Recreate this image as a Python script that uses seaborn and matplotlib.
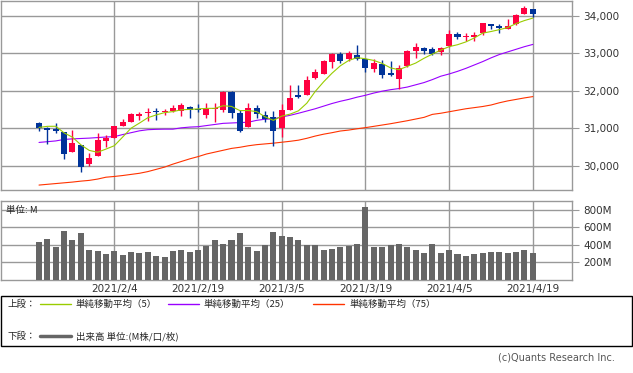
import numpy as np
import pandas as pd
import matplotlib
matplotlib.use("Agg")
import matplotlib.pyplot as plt
from matplotlib.lines import Line2D
from matplotlib.patches import Rectangle
import seaborn as sns

# ======================================================================
# DATA
# ======================================================================
tick_idx = [9, 19, 29, 39, 49, 59]
tick_labels = ['2021/2/4', '2021/2/19', '2021/3/5', '2021/3/19', '2021/4/5', '2021/4/19']

opens = [31150, 31000, 30980, 30900, 30370, 30555, 30045, 30260, 30670, 30740,
         31060, 31175, 31330, 31410, 31460, 31420, 31470, 31465, 31560, 31515,
         31360, 31505, 31490, 31965, 31415, 31040, 31530, 31355, 31290, 31015,
         31490, 31890, 31890, 32350, 32460, 32780, 32985, 32845, 32945, 32850,
         32585, 32705, 32480, 32310, 32670, 33075, 33135, 33115, 33045, 33205,
         33525, 33450, 33450, 33535, 33785, 33740, 33652, 33780, 34055, 34185]
highs = [31170, 31030, 31150, 30910, 30955, 30560, 30340, 30860, 30830, 31060,
         31240, 31395, 31440, 31530, 31530, 31520, 31620, 31665, 31590, 31650,
         31665, 31665, 32000, 32005, 31490, 31665, 31620, 31460, 31450, 31645,
         32155, 32150, 32395, 32575, 32835, 33000, 33040, 33070, 33225, 32870,
         32840, 32830, 32790, 32700, 33100, 33280, 33180, 33180, 33175, 33620,
         33560, 33540, 33570, 33810, 33790, 33790, 33920, 34060, 34275, 34200]
lows = [30920, 30590, 30880, 30170, 30360, 29840, 29995, 30250, 30510, 30730,
        31050, 31170, 31230, 31200, 31220, 31350, 31440, 31335, 31280, 31440,
        31285, 31160, 31420, 31280, 30900, 31030, 31265, 31175, 30530, 30755,
        31480, 31800, 31880, 32315, 32450, 32620, 32750, 32790, 32830, 32490,
        32495, 32350, 32400, 32050, 32640, 32890, 32990, 32950, 32950, 33180,
        33380, 33340, 33330, 33500, 33650, 33535, 33640, 33770, 34050, 33980]
closes = [30997, 30960, 30937, 30303, 30603, 29960, 30211, 30687, 30740, 31055,
          31170, 31385, 31390, 31437, 31430, 31458, 31545, 31613, 31493, 31494,
          31525, 31537, 31961, 31402, 30932, 31535, 31391, 31245, 30924, 31500,
          31802, 31832, 32297, 32500, 32790, 32975, 32800, 33000, 32862, 32620,
          32750, 32410, 32410, 32620, 33072, 33165, 33060, 32985, 33155, 33530,
          33430, 33465, 33505, 33800, 33745, 33677, 33740, 34035, 34220, 34060]

ma5 = [31021, 31050, 31052, 30875, 30760, 30557, 30407, 30357, 30442, 30532,
       30765, 31000, 31137, 31280, 31355, 31417, 31444, 31492, 31503, 31516,
       31529, 31532, 31601, 31583, 31471, 31473, 31444, 31306, 31210, 31323,
       31377, 31465, 31670, 31982, 32239, 32469, 32668, 32811, 32887, 32857,
       32812, 32732, 32613, 32564, 32653, 32741, 32870, 32982, 33089, 33180,
       33232, 33307, 33412, 33541, 33585, 33635, 33691, 33798, 33878, 33944]
ma25 = [30620, 30640, 30660, 30700, 30715, 30725, 30735, 30750, 30765, 30775,
        30830, 30880, 30930, 30960, 30970, 30975, 30975, 31010, 31030, 31040,
        31070, 31100, 31130, 31140, 31150, 31160, 31210, 31240, 31250, 31300,
        31345, 31400, 31460, 31520, 31590, 31660, 31720, 31770, 31830, 31880,
        31940, 31990, 32030, 32060, 32100, 32160, 32220, 32300, 32390, 32450,
        32520, 32600, 32690, 32780, 32880, 32970, 33040, 33110, 33180, 33240]
ma75 = [29480, 29500, 29520, 29540, 29560, 29585, 29605, 29640, 29690, 29710,
        29735, 29765, 29795, 29840, 29900, 29960, 30040, 30110, 30180, 30240,
        30310, 30360, 30410, 30460, 30490, 30530, 30560, 30580, 30600, 30625,
        30650, 30680, 30730, 30790, 30840, 30880, 30925, 30950, 30985, 31015,
        31050, 31085, 31120, 31160, 31200, 31245, 31290, 31370, 31400, 31440,
        31480, 31520, 31550, 31580, 31620, 31680, 31730, 31770, 31810, 31845]

volumes = [432, 469, 378, 560, 458, 534, 345, 330, 295, 330,
           284, 318, 307, 318, 273, 261, 330, 341, 318, 341,
           386, 458, 409, 458, 534, 378, 330, 398, 545, 500,
           489, 455, 398, 398, 341, 352, 378, 386, 409, 830,
           378, 378, 398, 409, 378, 341, 307, 409, 307, 341,
           295, 273, 295, 307, 318, 318, 307, 318, 341, 307]

# ======================================================================
# STYLE
# ======================================================================
RED = '#FF0040'
BLUE = '#003399'
C_MA5 = '#99CC00'
C_MA25 = '#9900FF'
C_MA75 = '#FF3300'
GRID = '#999999'
JP = ['Noto Sans CJK JP', 'DejaVu Sans']

sns.set_style("white")
plt.rcParams['font.family'] = ['DejaVu Sans', 'Noto Sans CJK JP']

W, H = 633, 373
fig = plt.figure(figsize=(W / 100, H / 100), dpi=100)


def px_axes(x0, y0, x1, y1):
    return fig.add_axes([x0 / W, 1 - y1 / H, (x1 - x0) / W, (y1 - y0) / H])


def fx(x):
    return x / W


def fy(y):
    return 1 - y / H


df = pd.DataFrame({'idx': np.arange(len(closes)), 'open': opens, 'high': highs,
                   'low': lows, 'close': closes, 'ma5': ma5, 'ma25': ma25,
                   'ma75': ma75, 'volume': volumes})

XLIM = (-4.54, 63.68)

# ---------------- price panel ----------------
ax = px_axes(1, 1, 572, 190)
up = df['close'] >= df['open']
cols = np.where(up, RED, BLUE)
ax.vlines(df['idx'], df['low'], df['high'], color=cols, lw=1, zorder=3)
body_lo = np.minimum(df['open'], df['close'])
body_h = np.maximum(np.abs(df['close'] - df['open']), 25)
ax.bar(df['idx'], body_h, bottom=body_lo, width=0.72, color=cols, linewidth=0, zorder=4)

sns.lineplot(data=df, x='idx', y='ma75', ax=ax, color=C_MA75, lw=0.8, legend=False, zorder=2)
sns.lineplot(data=df, x='idx', y='ma25', ax=ax, color=C_MA25, lw=0.8, legend=False, zorder=2)
sns.lineplot(data=df, x='idx', y='ma5', ax=ax, color=C_MA5, lw=0.8, legend=False, zorder=5)

ax.set_xlim(*XLIM)
ax.set_ylim(29348, 34401)
ax.set_xticks(tick_idx)
ax.set_xticklabels([])
ax.set_yticks([30000, 31000, 32000, 33000, 34000])
ax.set_yticklabels([f'{v:,}' for v in [30000, 31000, 32000, 33000, 34000]])
ax.yaxis.tick_right()
ax.tick_params(axis='y', length=5, color=GRID, labelsize=7.5, pad=3, labelcolor='#333333')
ax.tick_params(axis='x', length=0)
ax.grid(True, color=GRID, lw=1)
ax.set_axisbelow(True)
ax.set_xlabel('')
ax.set_ylabel('')
for s in ax.spines.values():
    s.set_color(GRID)
    s.set_linewidth(1)

# ---------------- volume panel ----------------
axv = px_axes(1, 201, 572, 280)
sns.barplot(data=df, x='idx', y='volume', ax=axv, color='#666666', saturation=1,
            width=0.72, linewidth=0, zorder=3)
axv.set_xlim(*XLIM)
axv.set_ylim(0, 900)
axv.set_xticks(tick_idx)
axv.set_xticklabels(tick_labels)
axv.set_yticks([200, 400, 600, 800])
axv.set_yticklabels(['200M', '400M', '600M', '800M'])
axv.yaxis.tick_right()
axv.tick_params(axis='y', length=5, color=GRID, labelsize=7.5, pad=3, labelcolor='#333333')
axv.tick_params(axis='x', length=0, labelsize=7.5, pad=3, labelcolor='#333333')
axv.grid(True, color=GRID, lw=1)
axv.set_axisbelow(True)
axv.set_xlabel('')
axv.set_ylabel('')
for s in axv.spines.values():
    s.set_color(GRID)
    s.set_linewidth(1)
axv.text(5 / 571, (280 - 210) / 79, '単位: M', transform=axv.transAxes, fontsize=6.8,
         family=JP, va='center', ha='left', color='#222222', zorder=6)

# ---------------- legend box ----------------
fig.add_artist(Rectangle((fx(0.5), fy(346)), fx(631.5) - fx(0.5), fy(296) - fy(346),
                         transform=fig.transFigure, fill=False, edgecolor='black', lw=1))

row1, row2 = 304, 336
fig.text(fx(8), fy(row1), '上段：', fontsize=6.8, family=JP, va='center', ha='left')
legend_items = [(40, 71, C_MA5, '単純移動平均（5）'),
                (168, 199, C_MA25, '単純移動平均（25）'),
                (313, 344, C_MA75, '単純移動平均（75）')]
for x0, x1, c, label in legend_items:
    fig.add_artist(Line2D([fx(x0), fx(x1)], [fy(row1), fy(row1)], color=c, lw=1,
                          transform=fig.transFigure))
    fig.text(fx(x1 + 5), fy(row1), label, fontsize=6.8, family=JP, va='center', ha='left')

fig.text(fx(8), fy(row2), '下段：', fontsize=6.8, family=JP, va='center', ha='left')
fig.add_artist(Line2D([fx(40), fx(71)], [fy(row2), fy(row2)], color='#666666', lw=2.5,
                      transform=fig.transFigure))
fig.text(fx(76), fy(row2), '出来高 単位:(M株/口/枚)', fontsize=6.8, family=JP,
         va='center', ha='left')

fig.text(fx(615), fy(358), '(c)Quants Research Inc.', fontsize=7, color='#555555',
         va='center', ha='right')

fig.savefig('out.png', dpi=100)
